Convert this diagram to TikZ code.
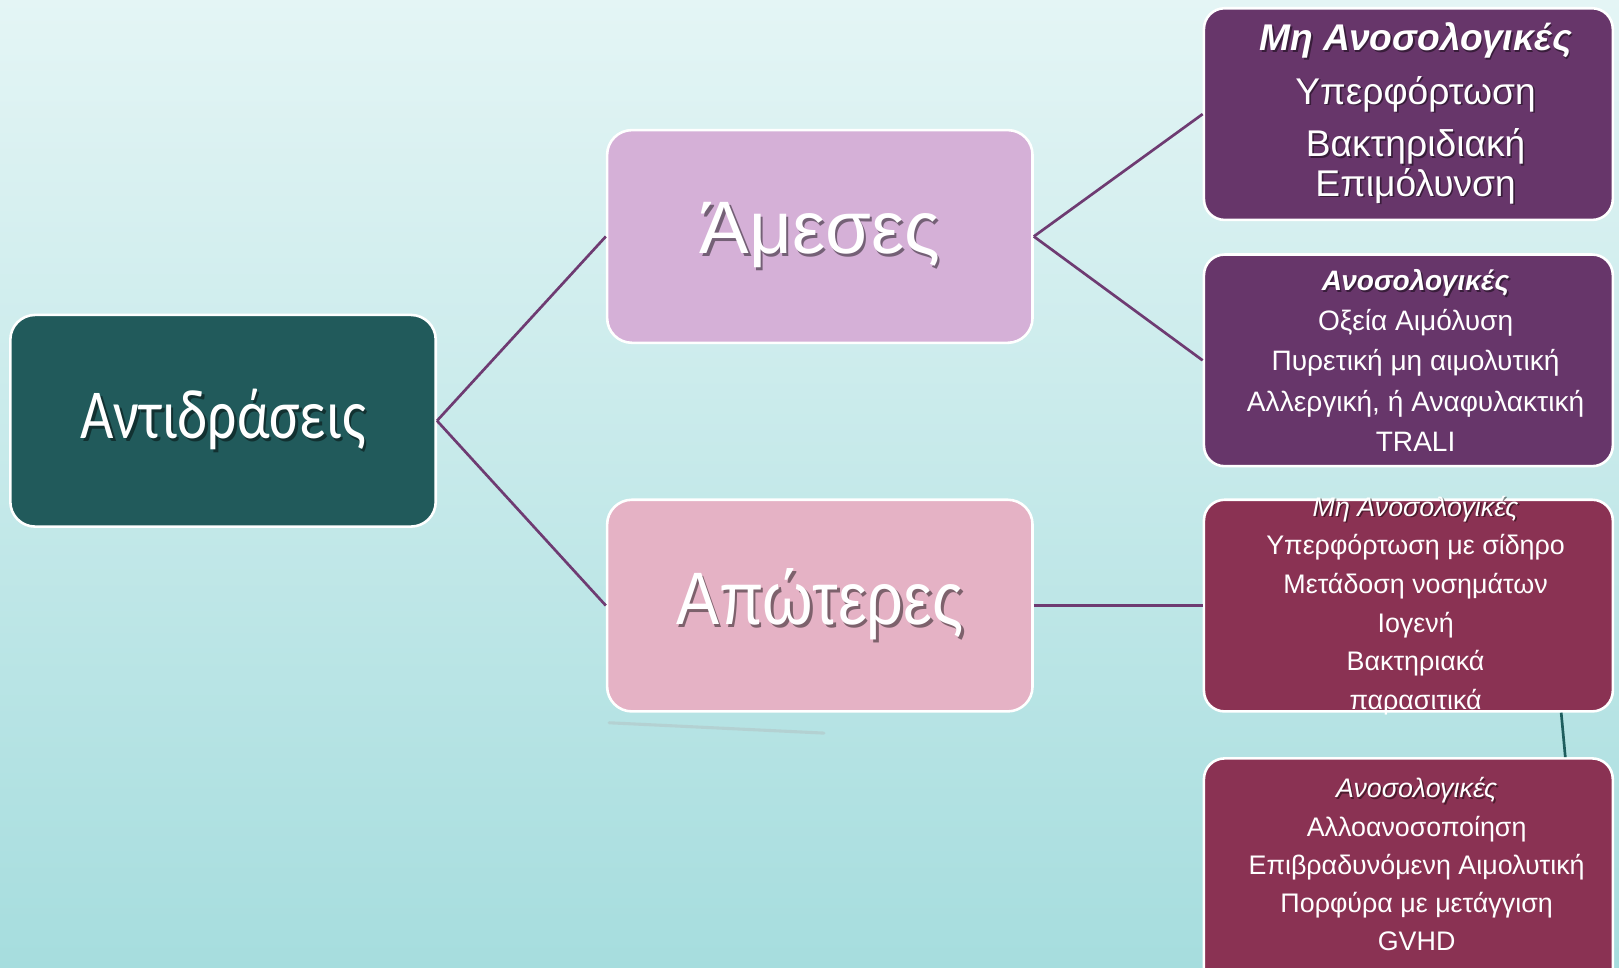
\documentclass[tikz,border=0pt]{standalone}
\usepackage{fontspec}
\setmainfont{Liberation Sans}
\newfontfamily\calfont[FakeStretch=0.82]{Carlito}
\newfontfamily\narrowfont[FakeStretch=0.87]{Liberation Sans}
\usetikzlibrary{positioning}

\definecolor{bgtop}{HTML}{E4F5F5}
\definecolor{bgbot}{HTML}{A6DDDE}
\definecolor{reactc}{HTML}{215A5B}
\definecolor{amesc}{HTML}{D5B0D7}
\definecolor{apotc}{HTML}{E5B2C5}
\definecolor{plum}{HTML}{67366A}
\definecolor{wine}{HTML}{8A3253}
\definecolor{linkc}{HTML}{6E3B72}
\definecolor{tealc}{HTML}{1E5E5E}

% white text with a dark drop shadow
\newcommand{\shd}[2][0.8pt]{\leavevmode\rlap{\kern#1\raisebox{-#1}{\pgfsetfillopacity{0.45}\color{black}#2\pgfsetfillopacity{1}}}#2}
\newcommand{\tightlines}{\setlength{\lineskiplimit}{-20pt}}

\begin{document}
\begin{tikzpicture}[
      x=0.5pt, y=-0.5pt,
      box/.style={rectangle, draw=white, line width=1.25pt, rounded corners=12pt, text=white, text centered, minimum width=206pt, minimum height=102.5pt},
      sidebox/.style={box, rounded corners=10pt, minimum width=198pt},
      sidetext/.style={text=white, align=center, inner sep=0pt},
      link/.style={draw=linkc, line width=1.3pt}
    ]
      \clip (0,0) rectangle (1568,937.5);
      \fill [top color=bgtop, bottom color=bgbot] (0,0) rectangle (1568,937.5);
      \draw [gray!60, opacity=0.35, line width=1.5pt, line cap=round] (590,700) -- (798,710);

      \node (r1) [sidebox, fill=plum] at (1364,110.5) {};
      \node (r2) [sidebox, fill=plum, below=15.5pt of r1] {};
      \node (r3) [sidebox, fill=wine, below=15pt of r2] {};
      \node (r4) [sidebox, fill=wine, below=21.5pt of r3, minimum height=120pt] {};

      \node (react) [box, fill=reactc, font=\calfont\fontsize{34}{40}\selectfont] at (216,407.5) {\shd[1.3pt]{Αντιδράσεις}};
      \node (amesses) [box, fill=amesc, font=\fontsize{36}{42}\selectfont, minimum height=103pt] at (794,229) {\shd[1.3pt]{Άμεσες}};
      \node (apoteres) [box, fill=apotc, font=\narrowfont\fontsize{36}{42}\selectfont] at (amesses |- r3) {\shd[1.3pt]{Απώτερες}};

      \node (t1) [sidetext, font=\fontsize{18}{19}\selectfont\tightlines] at ([xshift=3.5pt]r1.center)
        {\shd{\textbf{\textit{Μη Ανοσολογικές}}}\\[7pt] \shd{Υπερφόρτωση}\\[6.5pt] \shd{Βακτηριδιακή}\\ \shd{Επιμόλυνση}};
      \node (t2) [sidetext, font=\fontsize{13.6}{19.5}\selectfont] at ([xshift=3.5pt]r2.center)
        {\shd{\textbf{\textit{Ανοσολογικές}}}\\ Οξεία Αιμόλυση\\ Πυρετική μη αιμολυτική\\ Αλλεργική, ή Αναφυλακτική\\ TRALI};
      \node (t3) [sidetext, font=\fontsize{13}{18.75}\selectfont] at ([xshift=3.5pt]r3.center)
        {\shd{\textit{Μη Ανοσολογικές}}\\ Υπερφόρτωση με σίδηρο\\ Μετάδοση νοσημάτων\\ Ιογενή\\ Βακτηριακά\\ παρασιτικά};
      \node (t4) [sidetext, font=\fontsize{13}{18.5}\selectfont] at (1372,837)
        {\shd{\textit{Ανοσολογικές}}\\ Αλλοανοσοποίηση\\ Επιβραδυνόμενη Αιμολυτική\\ Πορφύρα με μετάγγιση\\ GVHD};

      \draw [link] (react.east) -- (amesses.west);
      \draw [link] (react.east) -- (apoteres.west);
      \draw [link] (amesses.east) -- (r1.west);
      \draw [link] (amesses.east) -- (r2.west);
      \draw [link] (apoteres.east) -- (r3.west);
      \draw [link, draw=tealc] ([xshift=74pt]r3.south) -- ([xshift=76pt]r4.north);
    \end{tikzpicture}
\end{document}
